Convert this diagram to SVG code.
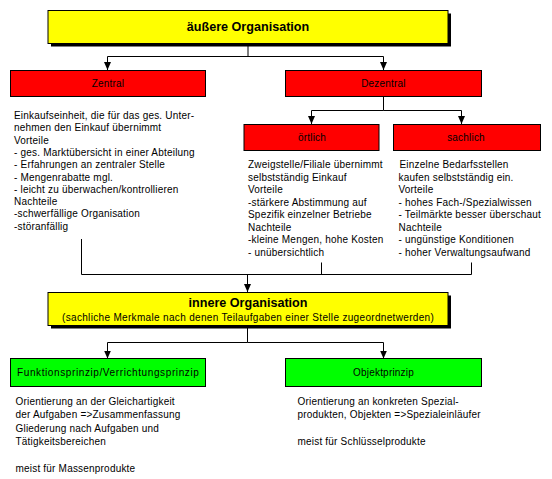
<svg xmlns="http://www.w3.org/2000/svg" width="552" height="479" viewBox="0 0 552 479">
<style>
text{font-family:"Liberation Sans",Arial,sans-serif;fill:#000}
.t{font-size:10px;letter-spacing:0.2px}
.c{text-anchor:middle}
.h{font-size:12.6px;font-weight:bold;text-anchor:middle}
.box{stroke:#000;stroke-width:1}
.y{fill:#ffff00}.r{fill:#ff0000}.g{fill:#00ff00}
.sh{fill:#000}
.ln{fill:none;stroke:#000;stroke-width:1}
</style>
<defs>
<marker id="arr" viewBox="0 0 8 8" refX="8" refY="4" markerWidth="8" markerHeight="8" orient="auto" markerUnits="userSpaceOnUse">
<path d="M0,0.5 L8,4 L0,7.5 Z" fill="#000"/>
</marker>
</defs>
<rect width="552" height="479" fill="#fff"/>
<g id="connectors">
<path class="ln" d="M248,43.5 V56.5 H107.5 V70" marker-end="url(#arr)"/>
<path class="ln" d="M248,56.5 H383.5 V70" marker-end="url(#arr)"/>
<path class="ln" d="M383.5,96.5 V110.5 H311.5 V124" marker-end="url(#arr)"/>
<path class="ln" d="M383.5,110.5 H461.5 V124" marker-end="url(#arr)"/>
<path class="ln" d="M81.5,239 V274.5 H471.5 V262.5"/>
<path class="ln" d="M321.5,262.5 V274.5"/>
<path class="ln" d="M247.5,274.5 V292" marker-end="url(#arr)"/>
<path class="ln" d="M247.5,325.5 V342.5 H107.5 V358.5" marker-end="url(#arr)"/>
<path class="ln" d="M247.5,342.5 H383.5 V358.5" marker-end="url(#arr)"/>
</g>
<g id="aeussere">
<rect class="sh" x="51" y="13.5" width="400" height="33"/>
<rect class="box y" x="48" y="10.5" width="400" height="33"/>
<text class="h" x="248" y="31">äußere Organisation</text>
</g>
<g id="zentral">
<rect class="box r" x="10.5" y="70.5" width="195" height="26"/>
<text class="t c" x="108" y="86.5">Zentral</text>
</g>
<g id="dezentral">
<rect class="box r" x="285.5" y="70.5" width="196" height="26"/>
<text class="t c" x="383.5" y="86.5">Dezentral</text>
</g>
<g id="oertlich">
<rect class="box r" x="244" y="124.5" width="135" height="26"/>
<text class="t c" x="312" y="141">örtlich</text>
</g>
<g id="sachlich">
<rect class="box r" x="393.5" y="124.5" width="147" height="26"/>
<text class="t c" x="466" y="141">sachlich</text>
</g>
<g id="zentral-text">
<text class="t" x="14" y="119">Einkaufseinheit, die für das ges. Unter-</text>
<text class="t" x="14" y="131.3">nehmen den Einkauf übernimmt</text>
<text class="t" x="14" y="143.6">Vorteile</text>
<text class="t" x="14" y="155.9">- ges. Marktübersicht in einer Abteilung</text>
<text class="t" x="14" y="168.2">- Erfahrungen an zentraler Stelle</text>
<text class="t" x="14" y="180.5">- Mengenrabatte mgl.</text>
<text class="t" x="14" y="192.8">- leicht zu überwachen/kontrollieren</text>
<text class="t" x="14" y="205.1">Nachteile</text>
<text class="t" x="14" y="217.4">-schwerfällige Organisation</text>
<text class="t" x="14" y="229.7">-störanfällig</text>
</g>
<g id="oertlich-text">
<text class="t" x="248" y="168">Zweigstelle/Filiale übernimmt</text>
<text class="t" x="248" y="180.5">selbstständig Einkauf</text>
<text class="t" x="248" y="193">Vorteile</text>
<text class="t" x="248" y="205.5">-stärkere Abstimmung auf</text>
<text class="t" x="248" y="218"> Spezifik einzelner Betriebe</text>
<text class="t" x="248" y="230.5">Nachteile</text>
<text class="t" x="248" y="243">-kleine Mengen, hohe Kosten</text>
<text class="t" x="248" y="255.5">- unübersichtlich</text>
</g>
<g id="sachlich-text">
<text class="t" x="399.5" y="168">Einzelne Bedarfsstellen</text>
<text class="t" x="398.5" y="180.5">kaufen selbstständig ein.</text>
<text class="t" x="398.5" y="193">Vorteile</text>
<text class="t" x="398.5" y="205.5">- hohes Fach-/Spezialwissen</text>
<text class="t" x="398.5" y="218">- Teilmärkte besser überschaut</text>
<text class="t" x="398.5" y="230.5">Nachteile</text>
<text class="t" x="398.5" y="243">- ungünstige Konditionen</text>
<text class="t" x="398.5" y="255.5">- hoher Verwaltungsaufwand</text>
</g>
<g id="innere">
<rect class="sh" x="51" y="295.5" width="400" height="33"/>
<rect class="box y" x="48" y="292.5" width="400" height="33"/>
<text class="h" x="248" y="307">innere Organisation</text>
<text class="t c" x="248" y="321" textLength="372" lengthAdjust="spacing">(sachliche Merkmale nach denen Teilaufgaben einer Stelle zugeordnetwerden)</text>
</g>
<g id="funktionsprinzip">
<rect class="box g" x="10.5" y="358.5" width="195" height="28"/>
<text class="t c" x="108" y="376" textLength="182" lengthAdjust="spacing">Funktionsprinzip/Verrichtungsprinzip</text>
</g>
<g id="objektprinzip">
<rect class="box g" x="285.5" y="358.5" width="196" height="28"/>
<text class="t c" x="383.5" y="376">Objektprinzip</text>
</g>
<g id="funktion-text">
<text class="t" x="15.5" y="404.5">Orientierung an der Gleichartigkeit</text>
<text class="t" x="15.5" y="418">der Aufgaben =&gt;Zusammenfassung</text>
<text class="t" x="15.5" y="431.5">Gliederung nach Aufgaben und</text>
<text class="t" x="15.5" y="445">Tätigkeitsbereichen</text>
<text class="t" x="15.5" y="472">meist für Massenprodukte</text>
</g>
<g id="objekt-text">
<text class="t" x="297.5" y="404.5">Orientierung an konkreten Spezial-</text>
<text class="t" x="297.5" y="418">produkten, Objekten =&gt;Spezialeinläufer</text>
<text class="t" x="297.5" y="445">meist für Schlüsselprodukte</text>
</g>
</svg>
